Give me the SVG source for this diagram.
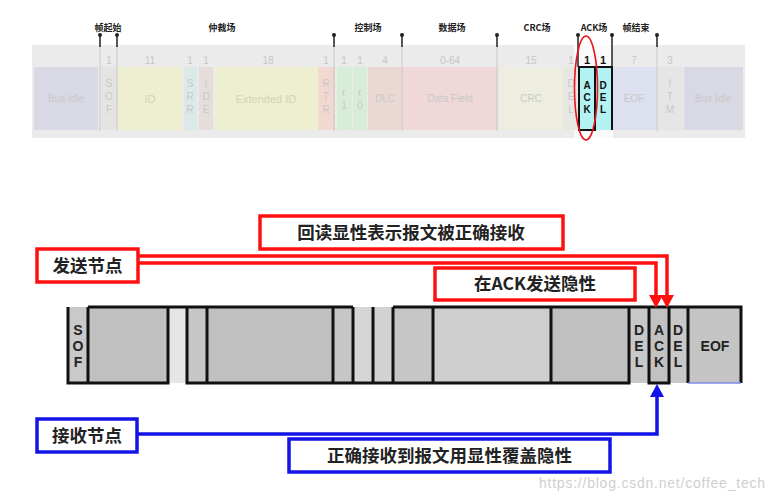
<svg xmlns="http://www.w3.org/2000/svg" width="773" height="500" viewBox="0 0 773 500">
<style>
.lbl{font-family:"Noto Sans CJK SC","Liberation Sans",sans-serif;font-weight:bold;font-size:9px;fill:#222;text-anchor:middle}
.num{font-family:"Liberation Sans",Arial,sans-serif;font-size:10px;fill:#c6c6c6;text-anchor:middle}
.ft{font-family:"Liberation Sans",Arial,sans-serif;font-size:10px;fill:#c8c8c8;text-anchor:middle}
.fb{font-family:"Liberation Sans",Arial,sans-serif;font-size:10px;font-weight:bold;fill:#111;text-anchor:middle}
.pinl{stroke:#222;stroke-width:1.5}
.pinp{stroke:#c8c8c8;stroke-width:1}
.bt{font-family:"Liberation Sans",Arial,sans-serif;font-size:14px;font-weight:bold;fill:#222;text-anchor:middle}
.cn{font-family:"Noto Sans CJK SC","Liberation Sans",sans-serif;font-weight:bold;font-size:17.5px;fill:#222;text-anchor:middle}
.rbox{fill:#fff;stroke:#ff1010;stroke-width:3.5}
.bbox{fill:#fff;stroke:#1414e6;stroke-width:3.5}
.blk{fill:none;stroke:#111;stroke-width:3}
</style>

<!-- top strip -->
<g id="top-strip">
<rect x="32" y="45" width="713" height="93" fill="#ebebeb"/>
<rect x="574" y="45" width="39" height="93" fill="#fafafa"/>
<rect x="34" y="67" width="64" height="63" fill="#d9d9e5"/>
<rect x="101" y="67" width="16" height="63" fill="#e4e4e4"/>
<rect x="117" y="67" width="65" height="63" fill="#eeeed0"/>
<rect x="184" y="67" width="13" height="63" fill="#dce9e9"/>
<rect x="199" y="67" width="14" height="63" fill="#e6dcd9"/>
<rect x="215" y="67" width="103" height="63" fill="#eeeed0"/>
<rect x="318" y="67" width="17" height="63" fill="#f1d8d0"/>
<rect x="337" y="67" width="15" height="63" fill="#d8edd8"/>
<rect x="353" y="67" width="14" height="63" fill="#d8edd8"/>
<rect x="368" y="67" width="34" height="63" fill="#e9d8d4"/>
<rect x="402" y="67" width="96" height="63" fill="#f1d8d8"/>
<rect x="499" y="67" width="64" height="63" fill="#eeeee0"/>
<rect x="563" y="67" width="16" height="63" fill="#e8e8e2"/>
<rect x="579" y="67" width="16" height="63" fill="#b3f2f2"/>
<rect x="595" y="67" width="17" height="63" fill="#b3f2f2"/>
<rect x="612" y="67" width="44" height="63" fill="#dde0ef"/>
<rect x="657" y="67" width="26" height="63" fill="#e5e5e5"/>
<rect x="684" y="67" width="59" height="63" fill="#d9d9e5"/>

<text class="num" x="109" y="64">1</text>
<text class="num" x="150" y="64">11</text>
<text class="num" x="190" y="64">1</text>
<text class="num" x="206" y="64">1</text>
<text class="num" x="268" y="64">18</text>
<text class="num" x="326" y="64">1</text>
<text class="num" x="344" y="64">1</text>
<text class="num" x="360" y="64">1</text>
<text class="num" x="385" y="64">4</text>
<text class="num" x="450" y="64">0-64</text>
<text class="num" x="531" y="64">15</text>
<text class="num" x="571" y="64">1</text>
<text class="fb" x="587" y="64" style="font-size:11px">1</text>
<text class="fb" x="603" y="64" style="font-size:11px">1</text>
<text class="num" x="634" y="64">7</text>
<text class="num" x="670" y="64">3</text>

<text class="ft" x="66" y="102" fill="#c4c4d2">Bus Idle</text>
<text class="ft" x="109" y="87">S</text><text class="ft" x="109" y="100">O</text><text class="ft" x="109" y="113">F</text>
<text class="ft" x="150" y="103" style="font-size:11px;fill:#d4d4b6">ID</text>
<text class="ft" x="190" y="87">S</text><text class="ft" x="190" y="100">R</text><text class="ft" x="190" y="113">R</text>
<text class="ft" x="206" y="87">I</text><text class="ft" x="206" y="100">D</text><text class="ft" x="206" y="113">E</text>
<text class="ft" x="266" y="103" style="font-size:11px;fill:#d4d4b6">Extended ID</text>
<text class="ft" x="326" y="87">R</text><text class="ft" x="326" y="100">T</text><text class="ft" x="326" y="113">R</text>
<text class="ft" x="344" y="96">r</text><text class="ft" x="344" y="109">1</text>
<text class="ft" x="360" y="96">r</text><text class="ft" x="360" y="109">0</text>
<text class="ft" x="385" y="102">DLC</text>
<text class="ft" x="450" y="102">Data Field</text>
<text class="ft" x="531" y="102">CRC</text>
<text class="ft" x="571" y="87">D</text><text class="ft" x="571" y="100">E</text><text class="ft" x="571" y="113">L</text>
<text class="fb" x="587" y="89">A</text><text class="fb" x="587" y="101">C</text><text class="fb" x="587" y="113">K</text>
<text class="fb" x="603" y="89">D</text><text class="fb" x="603" y="101">E</text><text class="fb" x="603" y="113">L</text>
<text class="ft" x="634" y="102">EOF</text>
<text class="ft" x="670" y="87">I</text><text class="ft" x="670" y="100">T</text><text class="ft" x="670" y="113">M</text>
<text class="ft" x="713" y="102" fill="#c4c4d2">Bus Idle</text>

<rect x="579" y="67" width="16" height="63" fill="none" stroke="#111" stroke-width="2"/>
<path d="M595,67 H612 V130" fill="none" stroke="#111" stroke-width="2"/>
</g>

<g id="pins">
<path class="pinp" d="M100,46 V131 M117,46 V131 M334,46 V131 M402,46 V131 M497,46 V131 M657,46 V131"/>
<path class="pinl" d="M100,35 V47 M117,35 V47 M334,35 V47 M402,35 V47 M497,35 V47 M657,35 V47 M578,35 V67 M612,35 V67"/>
<g fill="#222">
<circle cx="100" cy="35" r="2"/><circle cx="117" cy="35" r="2"/><circle cx="334" cy="35" r="2"/>
<circle cx="402" cy="35" r="2"/><circle cx="497" cy="35" r="2"/><circle cx="578" cy="35" r="2"/>
<circle cx="612" cy="35" r="2"/><circle cx="657" cy="35" r="2"/>
</g>
<text class="lbl" x="108" y="31">帧起始</text>
<text class="lbl" x="222" y="31">仲裁场</text>
<text class="lbl" x="368" y="31">控制场</text>
<text class="lbl" x="452" y="31">数据场</text>
<text class="lbl" x="537" y="31">CRC场</text>
<text class="lbl" x="594" y="31">ACK场</text>
<text class="lbl" x="636" y="31">帧结束</text>
</g>

<ellipse id="ack-highlight" cx="586" cy="88" rx="11.5" ry="52" fill="none" stroke="#e8141e" stroke-width="1.6"/>

<!-- bottom frame -->
<g id="frame">
<rect x="68" y="307" width="20" height="76" fill="#c9c9c9"/>
<rect x="88" y="307" width="80" height="76" fill="#c0c0c0"/>
<rect x="168" y="307" width="19" height="76" fill="#e6e6e6"/>
<rect x="187" y="307" width="20" height="76" fill="#c6c6c6"/>
<rect x="207" y="307" width="126" height="76" fill="#c0c0c0"/>
<rect x="333" y="307" width="20" height="76" fill="#c6c6c6"/>
<rect x="353" y="307" width="20" height="76" fill="#d6d6d6"/>
<rect x="373" y="307" width="20" height="76" fill="#d2d2d2"/>
<rect x="393" y="307" width="40" height="76" fill="#c6c6c6"/>
<rect x="433" y="307" width="118" height="76" fill="#cecece"/>
<rect x="551" y="307" width="78" height="76" fill="#c0c0c0"/>
<rect x="629" y="307" width="20" height="76" fill="#c8c8c8"/>
<rect x="649" y="307" width="20" height="76" fill="#c2c2c2"/>
<rect x="669" y="307" width="19" height="76" fill="#c8c8c8"/>
<rect x="688" y="307" width="53" height="76" fill="#c4c4c4"/>
<path class="blk" d="M68,307 V383 H168 V307 M88,307 V383 M88,307 H353 M187,307 V383 H353 V307 M207,307 V383 M333,307 V383 M353,383 H393 M373,307 V383 M393,307 H741 V383 M393,307 V383 H629 V307 M433,307 V383 M551,307 V383 M649,307 V383 H669 V307 M688,307 V383"/>
<path d="M688,383 H741" stroke="#7c8ce6" stroke-width="1.5"/>
<text class="bt" x="78" y="335">S</text><text class="bt" x="78" y="351">O</text><text class="bt" x="78" y="367">F</text>
<text class="bt" x="639" y="335">D</text><text class="bt" x="639" y="351">E</text><text class="bt" x="639" y="367">L</text>
<text class="bt" x="659" y="335">A</text><text class="bt" x="659" y="351">C</text><text class="bt" x="659" y="367">K</text>
<text class="bt" x="678" y="335">D</text><text class="bt" x="678" y="351">E</text><text class="bt" x="678" y="367">L</text>
<text class="bt" x="715" y="351">EOF</text>
</g>

<g id="connectors">
<path d="M138,256 H667 V296" fill="none" stroke="#ff1010" stroke-width="3.5"/>
<path d="M138,263 H656 V296" fill="none" stroke="#ff1010" stroke-width="3.5"/>
<polygon points="649,295 663,295 656,308" fill="#ff1010"/>
<polygon points="660,295 674,295 667,308" fill="#ff1010"/>
<path d="M137,434 H657 V396" fill="none" stroke="#1414e6" stroke-width="3.5"/>
<polygon points="650,397 664,397 657,384" fill="#1414e6"/>
</g>

<g id="send-node">
<rect class="rbox" x="37" y="249" width="101" height="33"/>
<text class="cn" x="87.5" y="272">发送节点</text>
</g>
<g id="readback-note">
<rect class="rbox" x="260" y="216" width="303" height="33"/>
<text class="cn" x="411" y="239">回读显性表示报文被正确接收</text>
</g>
<g id="ack-recessive-note">
<rect class="rbox" x="435" y="268" width="200" height="32"/>
<text class="cn" x="535" y="290">在ACK发送隐性</text>
</g>
<g id="recv-node">
<rect class="bbox" x="37" y="419" width="100" height="33"/>
<text class="cn" x="87" y="442">接收节点</text>
</g>
<g id="override-note">
<rect class="bbox" x="289" y="439" width="321" height="33"/>
<text class="cn" x="449.5" y="462">正确接收到报文用显性覆盖隐性</text>
</g>

<text x="539" y="488" font-family="'Liberation Sans Narrow','Liberation Sans',sans-serif" font-size="14" fill="#cfcfcf" textLength="226">https://blog.csdn.net/coffee_tech</text>
</svg>
